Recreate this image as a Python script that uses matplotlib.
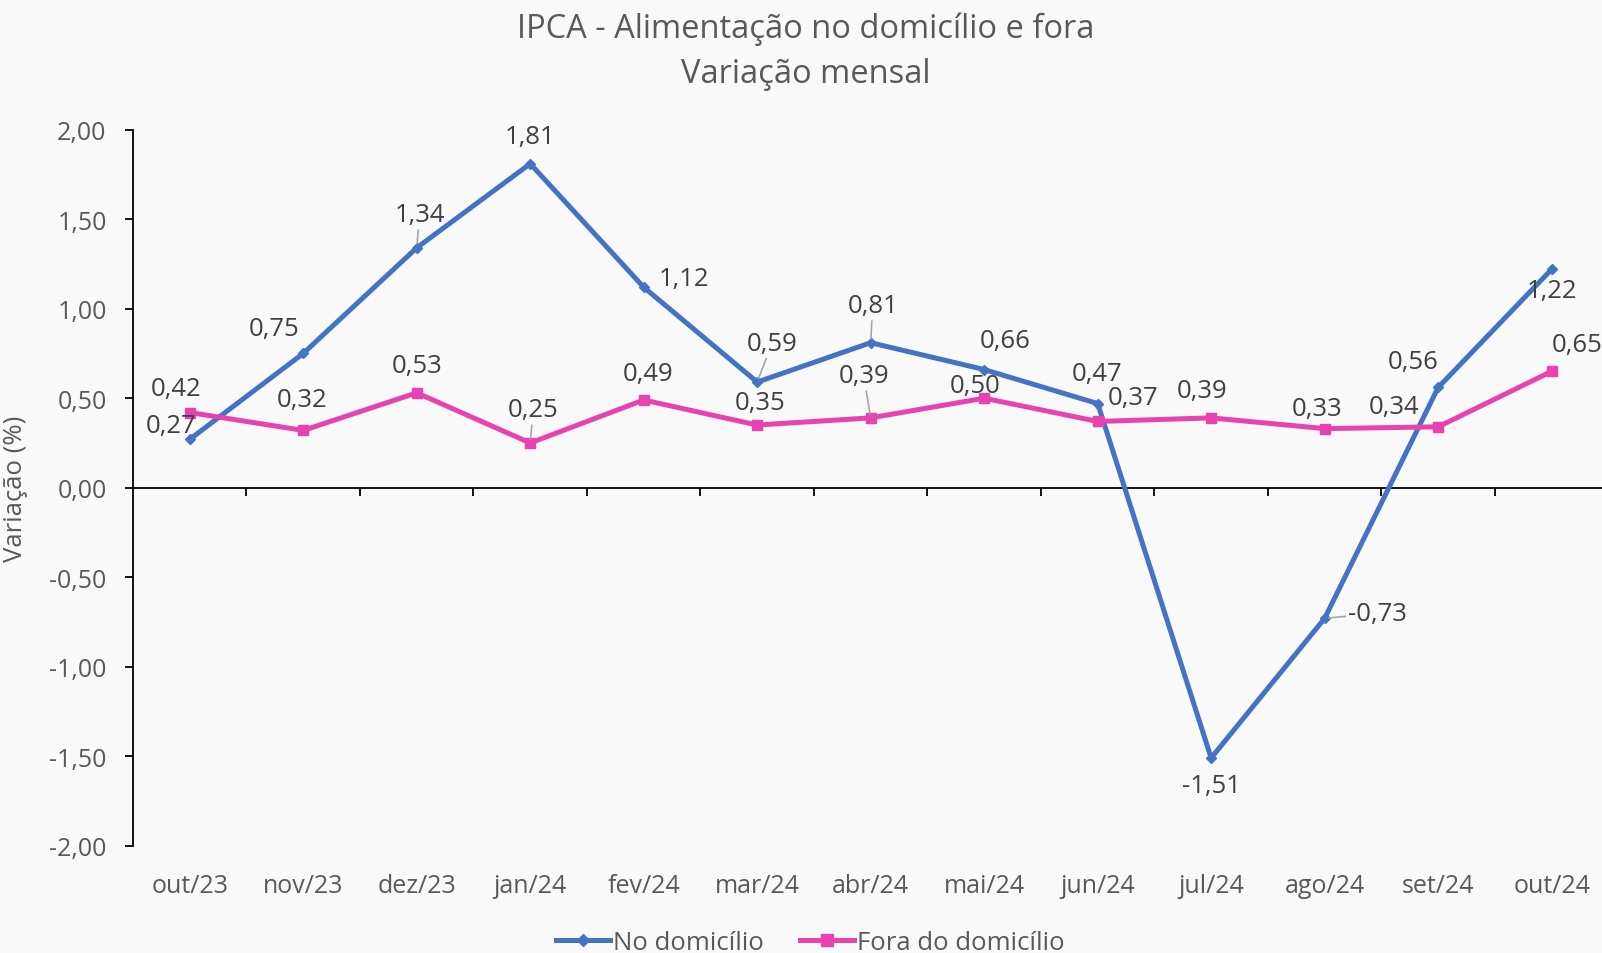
import matplotlib
matplotlib.use("Agg")
import matplotlib.pyplot as plt
from matplotlib.lines import Line2D

plt.rcParams.update({
    "font.family": ["Open Sans", "DejaVu Sans"],
    "font.size": 18,
    "text.color": "#595959",
    "xtick.color": "#000000",
    "ytick.color": "#000000",
    "xtick.labelcolor": "#595959",
    "ytick.labelcolor": "#595959",
})

# Dados
meses = ["out/23", "nov/23", "dez/23", "jan/24", "fev/24", "mar/24", "abr/24",
         "mai/24", "jun/24", "jul/24", "ago/24", "set/24", "out/24"]
no_domicilio = [0.27, 0.75, 1.34, 1.81, 1.12, 0.59, 0.81, 0.66, 0.47, -1.51, -0.73, 0.56, 1.22]
fora_domicilio = [0.42, 0.32, 0.53, 0.25, 0.49, 0.35, 0.39, 0.50, 0.37, 0.39, 0.33, 0.34, 0.65]
y_ticks = [-2.0, -1.5, -1.0, -0.5, 0.0, 0.5, 1.0, 1.5, 2.0]

# posição dos rótulos (pixels em relação ao ponto) e se têm linha guia
desloc_no = [(-19, 14), (-29, 25), (3, 33), (0, 27), (40, 9), (15, 39), (2, 37),
             (21, 29), (-1, 30), (0, -28), (53, 5), (-25, 26), (0, -21)]
guia_no = [2, 5, 6, 10]
desloc_fora = [(-14, 24), (-1, 31), (0, 27), (3, 33), (4, 26), (3, 23), (-7, 42),
               (-9, 13), (35, 24), (-9, 27), (-8, 20), (-44, 20), (26, 27)]
guia_fora = [3, 6]

AZUL = "#4472C4"
ROSA = "#E842B0"
FUNDO = "#F9F9F9"

fig = plt.figure(figsize=(16.02, 9.54), dpi=100, facecolor=FUNDO)
ax = fig.add_axes([0.083, 0.1125, 0.921, 0.7505], facecolor=FUNDO)

x = list(range(len(meses)))
ax.plot(x, no_domicilio, color=AZUL, linewidth=3.6, marker="D", markersize=5.5,
        label="No domicílio", zorder=3)
ax.plot(x, fora_domicilio, color=ROSA, linewidth=3.6, marker="s", markersize=7.5,
        label="Fora do domicílio", zorder=3)

def fmt(v):
    return f"{v:.2f}".replace(".", ",")

def rotular(valores, deslocs, guias):
    for i, (v, d) in enumerate(zip(valores, deslocs)):
        props = None
        if i in guias:
            props = dict(arrowstyle="-", color="#A6A6A6", lw=1.2, shrinkA=0, shrinkB=3)
        ax.annotate(fmt(v), xy=(i, v), xytext=d, textcoords="offset pixels",
                    ha="center", va="center", fontsize=18.5, color="#404040",
                    arrowprops=props, annotation_clip=False, zorder=4)

rotular(no_domicilio, desloc_no, guia_no)
rotular(fora_domicilio, desloc_fora, guia_fora)

ax.set_xlim(-0.5, len(meses) - 0.5)
ax.set_ylim(-2.0, 2.0)
ax.set_yticks(y_ticks)
ax.set_yticklabels([fmt(t) for t in y_ticks])
ax.tick_params(axis="y", direction="out", length=6, width=1.3, pad=13)

# eixo x cruzando no zero, marcas entre categorias
for s in ["top", "right"]:
    ax.spines[s].set_visible(False)
ax.spines["left"].set_linewidth(1.3)
ax.spines["bottom"].set_position(("data", 0))
ax.spines["bottom"].set_linewidth(1.3)
ax.set_xticks([i + 0.5 for i in x[:-1]])
ax.set_xticklabels([])
ax.tick_params(axis="x", direction="out", length=6, width=1.3)

# rótulos das categorias embaixo do gráfico
sec = ax.secondary_xaxis(location=0)
sec.set_xticks(x)
sec.set_xticklabels(meses)
sec.tick_params(axis="x", length=0, pad=20, labelsize=18, labelcolor="#595959")
sec.spines["bottom"].set_visible(False)

ax.set_ylabel("Variação (%)", fontsize=18.5, color="#595959")
ax.yaxis.set_label_coords(-0.071, 0.5)

fig.text(0.503, 0.9696, "IPCA - Alimentação no domicílio e fora", ha="center", va="center",
         fontsize=23.5, color="#595959")
fig.text(0.503, 0.9224, "Variação mensal", ha="center", va="center",
         fontsize=23.5, color="#595959")

handles = [Line2D([], [], color=AZUL, linewidth=3.6, marker="D", markersize=6),
           Line2D([], [], color=ROSA, linewidth=3.6, marker="s", markersize=8)]
fig.legend(handles, ["No domicílio", "Fora do domicílio"], loc="center",
           bbox_to_anchor=(0.506, 0.011), ncol=2, frameon=False, fontsize=18.5,
           handlelength=2.1, handletextpad=0.12, columnspacing=1.4, labelcolor="#595959")

plt.savefig("out.png", dpi=100, facecolor=FUNDO)
